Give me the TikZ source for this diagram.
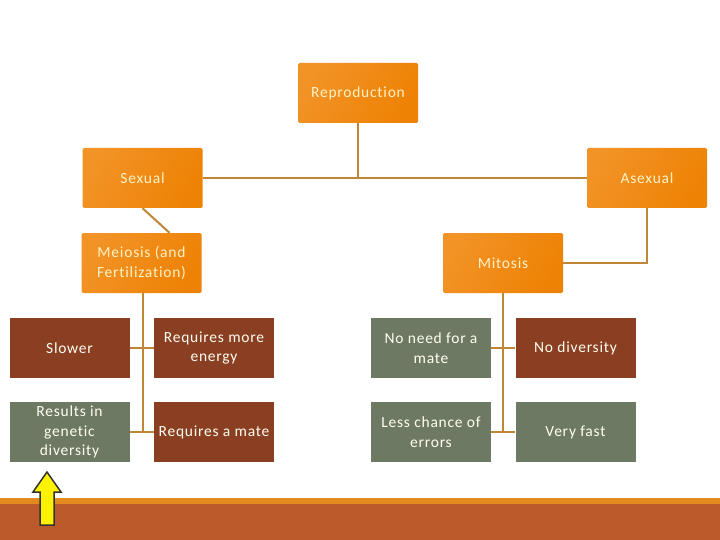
\documentclass[tikz,border=0pt]{standalone}
\usepackage{fontspec}
\newfontfamily\boxfont[LetterSpace=5,Ligatures={NoCommon}]{Carlito}
\definecolor{orA}{HTML}{F29326}
\definecolor{orB}{HTML}{EE8205}
\definecolor{brn}{HTML}{8A3F22}
\definecolor{grn}{HTML}{6E7963}
\definecolor{lnc}{HTML}{BE8636}
\definecolor{cream}{HTML}{FFF3C8}
\definecolor{bandA}{HTML}{E3891E}
\definecolor{bandB}{HTML}{BC5A2C}
\begin{document}
\begin{tikzpicture}[x=1pt,y=-1pt,
  box/.style={minimum width=120pt,minimum height=60pt,inner sep=0pt,align=center,
    font=\boxfont\fontsize{15.5}{19.5}\selectfont},
  orbox/.style={box,rounded corners=1.5pt,left color=orA,right color=orB,shading angle=60,text=cream},
  brbox/.style={box,fill=brn,text=white!95!yellow},
  grbox/.style={box,fill=grn,text=white!95!yellow},
  conn/.style={draw=lnc,line width=2pt}]
\useasboundingbox (0,0) rectangle (720,540);
\fill[white] (0,0) rectangle (720,540);
% bottom band
\fill[bandA] (0,498) rectangle (720,504);
\fill[bandB] (0,504) rectangle (720,540);
% nodes
\node[orbox] (rep) at (358,93) {Reproduction};
\node[orbox] (sex) at (142.5,178) {Sexual};
\node[orbox] (asex) at (647,178) {Asexual};
\node[orbox] (mei) at (141.5,263) {Meiosis (and\\Fertilization)};
\node[orbox] (mit) at (503,263) {Mitosis};
\node[brbox] (slow) at (69.5,348) {Slower};
\node[brbox] (rme) at (214,348) {Requires more\\energy};
\node[grbox] (res) at (69.5,432) {Results in\\genetic\\diversity};
\node[brbox] (rm) at (214,432) {Requires a mate};
\node[grbox] (nn) at (431,348) {No need for a\\mate};
\node[brbox] (nd) at (575.5,348) {No diversity};
\node[grbox] (lc) at (431,432) {Less chance of\\errors};
\node[grbox] (vf) at (575.5,432) {Very fast};
% connectors
\draw[conn] (sex.east) -- (asex.west);
\draw[conn] (rep.south) -- (rep.south |- sex.east);
\draw[conn] (sex.south) -- ([xshift=28pt]mei.north);
\draw[conn] (asex.south) |- (mit.east);
\draw[conn] ([xshift=1.5pt]mei.south) -- ([xshift=1.5pt]mei.south |- res.east);
\draw[conn] (slow.east) -- (rme.west);
\draw[conn] (res.east) -- (rm.west);
\draw[conn] (mit.south) -- (mit.south |- lc.east);
\draw[conn] (nn.east) -- (nd.west);
\draw[conn] (lc.east) -- (vf.west);
% yellow arrow
\draw[fill=yellow,draw=black!80,line width=1.5pt,line join=miter]
  (47,472) -- (61,492) -- (54,492) -- (54,525) -- (40,525) -- (40,492) -- (33,492) -- cycle;
\end{tikzpicture}
\end{document}
